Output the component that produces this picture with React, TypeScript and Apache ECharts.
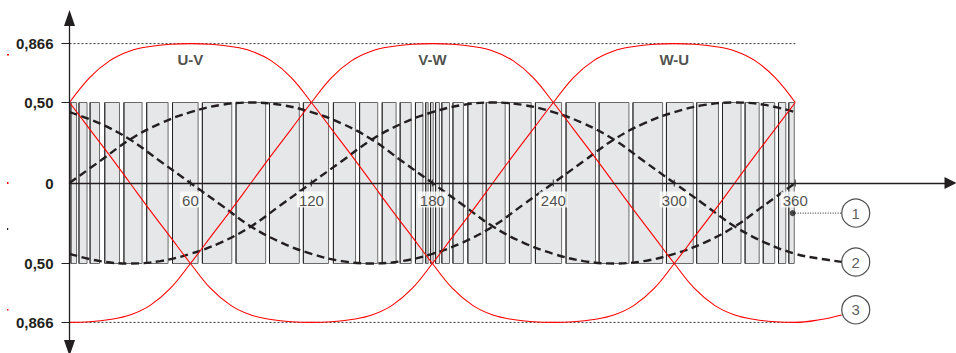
import React, { useEffect, useRef } from "react";
import * as echarts from "echarts";

const FONT = "'Liberation Sans', Arial, Helvetica, sans-serif";

// axis ticks
const xTickValues = [60, 120, 180, 240, 300, 360];
const yTickValues = [0.866, 0.5, 0, -0.5, -0.866];
const yTickLabels = ["0,866", "0,50", "0", "0,50", "0,866"];
const yTickMarks = [0.866, 0.5, -0.5, -0.866];

// line-to-line voltage names and their peak angles
const phaseNames = ["U-V", "V-W", "W-U"];
const phasePeakAngles = [60, 180, 300];

// PWM pulse edges (degrees)
const pulseStarts = [0.7, 4.7, 10.2, 17.5, 27.0, 38.3, 51.1, 65.9, 82.6, 99.2, 116.0, 130.9, 143.9, 155.1, 164.0, 171.6, 176.7, 179.1, 181.6, 184.7, 190.2, 197.6, 206.7, 218.2, 231.1, 246.3, 262.7, 279.5, 296.1, 311.1, 323.9, 335.1, 344.1, 351.7, 356.8];
const pulseEnds = [3.5, 8.7, 14.9, 24.8, 36.0, 48.9, 63.8, 80.5, 97.3, 114.0, 128.5, 141.9, 152.9, 162.0, 169.5, 175.3, 177.9, 180.4, 183.5, 188.5, 195.4, 205.0, 216.1, 229.0, 244.1, 260.9, 277.5, 294.2, 309.4, 321.9, 333.1, 342.1, 349.8, 355.3, 359.5];
const pulseLevel = 0.5;

// line-to-line voltages (red), sampled every 10 degrees
const redAngles = [0, 10, 20, 30, 40, 50, 60, 70, 80, 90, 100, 110, 120, 130, 140, 150, 160, 170, 180, 190, 200, 210, 220, 230, 240, 250, 260, 270, 280, 290, 300, 310, 320, 330, 340, 350, 360];
const uvValues = [0.5, 0.655, 0.76, 0.82, 0.848, 0.862, 0.866, 0.862, 0.848, 0.82, 0.76, 0.655, 0.5, 0.335, 0.17, 0, -0.17, -0.335, -0.5, -0.655, -0.76, -0.82, -0.848, -0.862, -0.866, -0.862, -0.848, -0.82, -0.76, -0.655, -0.5, -0.335, -0.17, 0, 0.17, 0.335, 0.5];
const vwValues = [-0.866, -0.862, -0.848, -0.82, -0.76, -0.655, -0.5, -0.335, -0.17, 0, 0.17, 0.335, 0.5, 0.655, 0.76, 0.82, 0.848, 0.862, 0.866, 0.862, 0.848, 0.82, 0.76, 0.655, 0.5, 0.335, 0.17, 0, -0.17, -0.335, -0.5, -0.655, -0.76, -0.82, -0.848, -0.862, -0.866];
const wuValues = [0.5, 0.335, 0.17, 0, -0.17, -0.335, -0.5, -0.655, -0.76, -0.82, -0.848, -0.862, -0.866, -0.862, -0.848, -0.82, -0.76, -0.655, -0.5, -0.335, -0.17, 0, 0.17, 0.335, 0.5, 0.655, 0.76, 0.82, 0.848, 0.862, 0.866, 0.862, 0.848, 0.82, 0.76, 0.655, 0.5];
const vwTailAngles = [372, 383];
const vwTailValues = [-0.85, -0.82];

// phase voltages (dashed), sampled every 15 degrees
const dashAngles = [0, 15, 30, 45, 60, 75, 90, 105, 120, 135, 150, 165, 180, 195, 210, 225, 240, 255, 270, 285, 300, 315, 330, 345, 360];
const phaseAValues = [0, 0.135, 0.27, 0.37, 0.44, 0.485, 0.5, 0.485, 0.44, 0.37, 0.27, 0.135, 0, -0.135, -0.27, -0.37, -0.44, -0.485, -0.5, -0.485, -0.44, -0.37, -0.27, -0.135, 0];
const phaseBValues = [0.44, 0.37, 0.27, 0.135, 0, -0.135, -0.27, -0.37, -0.44, -0.485, -0.5, -0.485, -0.44, -0.37, -0.27, -0.135, 0, 0.135, 0.27, 0.37, 0.44, 0.485, 0.5, 0.485, 0.44];
const phaseCValues = [-0.44, -0.485, -0.5, -0.485, -0.44, -0.37, -0.27, -0.135, 0, 0.135, 0.27, 0.37, 0.44, 0.485, 0.5, 0.485, 0.44, 0.37, 0.27, 0.135, 0, -0.135, -0.27, -0.37, -0.44];
const phaseCTailAngles = [372, 383];
const phaseCTailValues = [-0.47, -0.49];

// reference levels (dotted)
const peakLevel = 0.866;
const peakSpan = [0, 360];

// callouts
const calloutNumbers = ["1", "2", "3"];
const calloutAngle = 390;
const calloutLevels = [-0.187, -0.491, -0.788];
const callout1Dot = [358.7, -0.187];
const callout1LeaderEnd = 383;

const INK = "#231f20";
const RED = "#ff0000";

function pairs(xs: number[], ys: number[]) {
  return xs.map((x, i) => [x, ys[i]]);
}

export default function App() {
  const ref = useRef<HTMLDivElement>(null);
  useEffect(() => {
    if (!ref.current) return;
    const chart = echarts.init(ref.current, undefined, { renderer: "svg" });

    const dashedStyle = { color: INK, width: 2.4, type: [8, 4.5] as any };
    const redStyle = { color: RED, width: 1.1 };

    const option: any = {
      animation: false,
      textStyle: { fontFamily: FONT },
      grid: { left: 69.5, right: 5.5, top: 18, bottom: 5, containLabel: false, outerBoundsMode: "none" },
      xAxis: {
        type: "value",
        min: 0,
        max: 437,
        interval: 60,
        z: 10,
        splitLine: { show: false },
        axisLine: {
          onZero: true,
          symbol: ["none", "triangle"],
          symbolSize: [12, 12],
          lineStyle: { color: INK, width: 1.3 },
        },
        axisTick: { show: false },
        axisLabel: { show: false },
      },
      yAxis: {
        type: "value",
        min: -1.025,
        max: 1.025,
        z: 10,
        splitLine: { show: false },
        axisLine: {
          onZero: true,
          symbol: ["triangle", "triangle"],
          symbolSize: [11, 16],
          lineStyle: { color: INK, width: 1.3 },
        },
        axisTick: {
          show: true,
          customValues: yTickMarks,
          length: 8,
          lineStyle: { color: INK, width: 1 },
        },
        axisLabel: {
          customValues: yTickValues,
          margin: 16,
          fontSize: 15,
          fontWeight: "bold",
          color: INK,
          fontFamily: FONT,
          formatter: (v: number) => {
            const i = yTickValues.findIndex((t) => Math.abs(t - v) < 1e-6);
            return i >= 0 ? yTickLabels[i] : "";
          },
        },
      },
      series: [
        {
          type: "custom",
          name: "pulses",
          silent: true,
          z: 1,
          encode: { x: [0, 1] },
          data: pulseStarts.map((s, i) => [s, pulseEnds[i]]),
          renderItem: (params: any, api: any) => {
            const a = api.coord([api.value(0), pulseLevel]);
            const b = api.coord([api.value(1), -pulseLevel]);
            return {
              type: "group",
              children: [
                {
                  type: "rect",
                  shape: { x: a[0], y: a[1], width: b[0] - a[0], height: b[1] - a[1] },
                  style: { fill: "#e6e7e8", stroke: "#6a6a6a", lineWidth: 1 },
                },
                {
                  type: "line",
                  shape: { x1: a[0], y1: a[1], x2: a[0], y2: b[1] },
                  style: { stroke: "#222222", lineWidth: 1 },
                },
              ],
            };
          },
        },
        {
          type: "line",
          name: "peak+",
          data: pairs(peakSpan, [peakLevel, peakLevel]),
          showSymbol: false,
          silent: true,
          z: 2,
          lineStyle: { color: "#333", width: 1, type: [2, 2] },
        },
        {
          type: "line",
          name: "peak-",
          data: pairs(peakSpan, [-peakLevel, -peakLevel]),
          showSymbol: false,
          silent: true,
          z: 2,
          lineStyle: { color: "#333", width: 1, type: [2, 2] },
        },
        {
          type: "line",
          name: "A",
          data: pairs(dashAngles, phaseAValues),
          showSymbol: false,
          smooth: 0.4,
          z: 3,
          lineStyle: dashedStyle,
        },
        {
          type: "line",
          name: "B",
          data: pairs(dashAngles, phaseBValues),
          showSymbol: false,
          smooth: 0.4,
          z: 3,
          lineStyle: dashedStyle,
        },
        {
          type: "line",
          name: "C",
          data: pairs(dashAngles.concat(phaseCTailAngles), phaseCValues.concat(phaseCTailValues)),
          showSymbol: false,
          smooth: 0.4,
          z: 3,
          lineStyle: dashedStyle,
        },
        {
          type: "line",
          name: "U-V",
          data: pairs(redAngles, uvValues),
          showSymbol: false,
          smooth: 0.4,
          z: 4,
          lineStyle: redStyle,
        },
        {
          type: "line",
          name: "V-W",
          data: pairs(redAngles.concat(vwTailAngles), vwValues.concat(vwTailValues)),
          showSymbol: false,
          smooth: 0.4,
          z: 4,
          lineStyle: redStyle,
        },
        {
          type: "line",
          name: "W-U",
          data: pairs(redAngles, wuValues),
          showSymbol: false,
          smooth: 0.4,
          z: 4,
          lineStyle: redStyle,
        },
        {
          type: "scatter",
          name: "xTicks",
          silent: true,
          z: 12,
          symbol: "rect",
          symbolSize: [1.2, 7],
          itemStyle: { color: INK },
          data: xTickValues.map((v) => [v, 0]),
          label: {
            show: true,
            position: "bottom",
            distance: 5,
            formatter: (p: any) => String(p.value[0]),
            fontSize: 15,
            color: INK,
            fontFamily: FONT,
            backgroundColor: "#ffffff",
            padding: [1, 2, 0, 2],
          },
        },
        {
          type: "scatter",
          name: "labels",
          silent: true,
          z: 6,
          symbolSize: 1,
          itemStyle: { color: "rgba(0,0,0,0)" },
          data: phasePeakAngles.map((a, i) => ({ name: phaseNames[i], value: [a, 0.765] })),
          label: {
            show: true,
            position: "inside",
            formatter: "{b}",
            fontSize: 15,
            fontWeight: "bold",
            color: INK,
            fontFamily: FONT,
          },
        },
        {
          type: "line",
          name: "leader1",
          data: [callout1Dot, [callout1LeaderEnd, callout1Dot[1]]],
          showSymbol: false,
          silent: true,
          z: 5,
          lineStyle: { color: INK, width: 1, type: [1, 1.5] },
        },
        {
          type: "scatter",
          name: "dot1",
          silent: true,
          z: 6,
          symbolSize: 6,
          itemStyle: { color: INK },
          data: [callout1Dot],
        },
        {
          type: "scatter",
          name: "callouts",
          silent: true,
          z: 7,
          symbolSize: 28,
          itemStyle: { color: "#ffffff", borderColor: INK, borderWidth: 1.2 },
          data: calloutNumbers.map((n, i) => ({ name: n, value: [calloutAngle, calloutLevels[i]] })),
          label: {
            show: true,
            position: "inside",
            formatter: "{b}",
            fontSize: 15,
            color: "#333",
            fontFamily: FONT,
          },
        },
      ],
      graphic: [
        { type: "rect", shape: { x: 7, y: 54, width: 2, height: 1.5 }, style: { fill: RED } },
        { type: "rect", shape: { x: 7, y: 182, width: 1.5, height: 2 }, style: { fill: RED } },
        { type: "rect", shape: { x: 7, y: 228, width: 1.2, height: 2 }, style: { fill: INK } },
        { type: "rect", shape: { x: 7, y: 309, width: 1.5, height: 1.5 }, style: { fill: RED } },
      ],
    };

    chart.setOption(option);
    return () => chart.dispose();
  }, []);

  return (
    <div
      ref={ref}
      style={{ position: "fixed", left: 0, top: 0, width: 956, height: 353, background: "#fff" }}
    />
  );
}
